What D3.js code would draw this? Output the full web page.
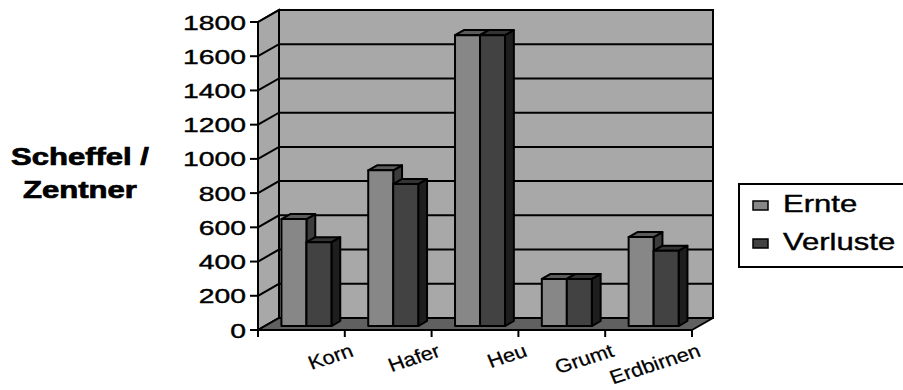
<!DOCTYPE html>
<html>
<head>
<meta charset="utf-8">
<script src="https://cdn.jsdelivr.net/npm/d3@7"></script>
<style>
  html, body { margin: 0; padding: 0; background: #fff; }
  svg { display: block; }
  text { font-family: "Liberation Sans", Arial, sans-serif; fill: #000; stroke: #000; stroke-width: 0.4px; }
  text.title { stroke-width: 0.7px; }
  text.cat { stroke-width: 0.25px; }
</style>
</head>
<body>
<svg id="chart" width="903" height="390"></svg>
<script>
// Harvest and losses per crop
const categories = ["Korn", "Hafer", "Heu", "Grumt", "Erdbirnen"];
const seriesNames = ["Ernte", "Verluste"];
const ernte = [625, 910, 1700, 275, 520];
const verluste = [490, 830, 1700, 275, 440];
const yTicks = [0, 200, 400, 600, 800, 1000, 1200, 1400, 1600, 1800];
const yTitle = ["Scheffel /", "Zentner"];

const series = [ernte, verluste];
const colors = {
  wall: "#a8a8a8",
  floor: "#606060",
  front: ["#878787", "#424242"],
  top: ["#5c5c5c", "#343434"],
  side: ["#3c3c3c", "#1e1e1e"]
};

const svg = d3.select("#chart");
const SX = 1.35;           // horizontal text stretch
const DX = 21, DY = 12;    // oblique depth offset of the plot box
const Z1 = 0.33, Z2 = 0.75; // depth extent of the columns

const x = d3.scaleBand().domain(categories).range([258, 692]);
const xs = d3.scaleBand().domain(seriesNames).range([16.5, 66.5]);
const y = d3.scaleLinear().domain([0, 1800]).range([330, 22]);

const P = (px, py, z) => [px + z * DX, py - z * DY];
const poly = pts => "M" + pts.map(p => p.join(",")).join("L") + "Z";

const x0 = x.range()[0], x1 = x.range()[1];
const yb = y(0), yt = y(1800);

// side wall
svg.append("path")
  .attr("d", poly([P(x0, yb, 0), P(x0, yt, 0), P(x0, yt, 1), P(x0, yb, 1)]))
  .attr("fill", colors.wall).attr("stroke", "#000").attr("stroke-width", 2);
// back wall
svg.append("path")
  .attr("d", poly([P(x0, yb, 1), P(x0, yt, 1), P(x1, yt, 1), P(x1, yb, 1)]))
  .attr("fill", colors.wall).attr("stroke", "#000").attr("stroke-width", 2);

// gridlines on both walls
yTicks.forEach(t => {
  const a = P(x0, y(t), 0), b = P(x0, y(t), 1), c = P(x1, y(t), 1);
  svg.append("path")
    .attr("d", "M" + [a, b, c].map(p => p.join(",")).join("L"))
    .attr("fill", "none").attr("stroke", "#000").attr("stroke-width", 2);
});

// floor
svg.append("path")
  .attr("d", poly([P(x0, yb, 0), P(x1, yb, 0), P(x1, yb, 1), P(x0, yb, 1)]))
  .attr("fill", colors.floor).attr("stroke", "#000").attr("stroke-width", 2)
  .attr("stroke-linejoin", "round");

// columns
categories.forEach((cat, i) => {
  seriesNames.forEach((s, k) => {
    const v = series[k][i];
    const bx0 = x(cat) + xs(s), bx1 = bx0 + xs.bandwidth();
    const vy = y(v);
    const g = svg.append("g")
      .attr("stroke", "#000").attr("stroke-width", 2).attr("stroke-linejoin", "round");
    g.append("path")
      .attr("d", poly([P(bx1, vy, Z1), P(bx1, vy, Z2), P(bx1, yb, Z2), P(bx1, yb, Z1)]))
      .attr("fill", colors.side[k]);
    g.append("path")
      .attr("d", poly([P(bx0, vy, Z1), P(bx1, vy, Z1), P(bx1, vy, Z2), P(bx0, vy, Z2)]))
      .attr("fill", colors.top[k]);
    g.append("path")
      .attr("d", poly([P(bx0, vy, Z1), P(bx1, vy, Z1), P(bx1, yb, Z1), P(bx0, yb, Z1)]))
      .attr("fill", colors.front[k]);
  });
});

// value axis: tick marks and labels
yTicks.forEach(t => {
  svg.append("line")
    .attr("x1", x0 - 8).attr("x2", x0).attr("y1", y(t)).attr("y2", y(t))
    .attr("stroke", "#000").attr("stroke-width", 2);
  svg.append("text")
    .attr("transform", `translate(${x0 - 12},${y(t)}) scale(${SX},1)`)
    .attr("text-anchor", "end").attr("dominant-baseline", "central")
    .attr("font-size", 21).text(t);
});

// category axis ticks
const bounds = categories.map(c => x(c)).concat([x1]);
bounds.forEach(bx => {
  svg.append("line")
    .attr("x1", bx).attr("x2", bx).attr("y1", yb).attr("y2", yb + 7)
    .attr("stroke", "#000").attr("stroke-width", 2);
});

// category labels, slanted
categories.forEach(cat => {
  svg.append("text")
    .attr("class", "cat")
    .attr("transform", `translate(${x(cat) + x.bandwidth() + 10},${356}) scale(1.15,1) rotate(-20)`)
    .attr("text-anchor", "end").attr("font-size", 19).text(cat);
});

// value axis title
yTitle.forEach((line, i) => {
  svg.append("text")
    .attr("class", "title")
    .attr("transform", `translate(80,${165 + i * 33}) scale(${SX},1)`)
    .attr("text-anchor", "middle").attr("font-weight", "bold")
    .attr("font-size", 23).text(line);
});

// legend
const lg = svg.append("g");
lg.append("rect")
  .attr("x", 739).attr("y", 184).attr("width", 180).attr("height", 83)
  .attr("fill", "#fff").attr("stroke", "#000").attr("stroke-width", 2);
seriesNames.forEach((s, k) => {
  const base = 212 + k * 38;
  lg.append("rect")
    .attr("x", 753).attr("y", base - 11).attr("width", 15).attr("height", 9)
    .attr("fill", colors.front[k]).attr("stroke", "#000").attr("stroke-width", 1.5);
  lg.append("text")
    .attr("transform", `translate(783,${base}) scale(${SX},1)`)
    .attr("font-size", 23).text(s);
});
</script>
</body>
</html>
